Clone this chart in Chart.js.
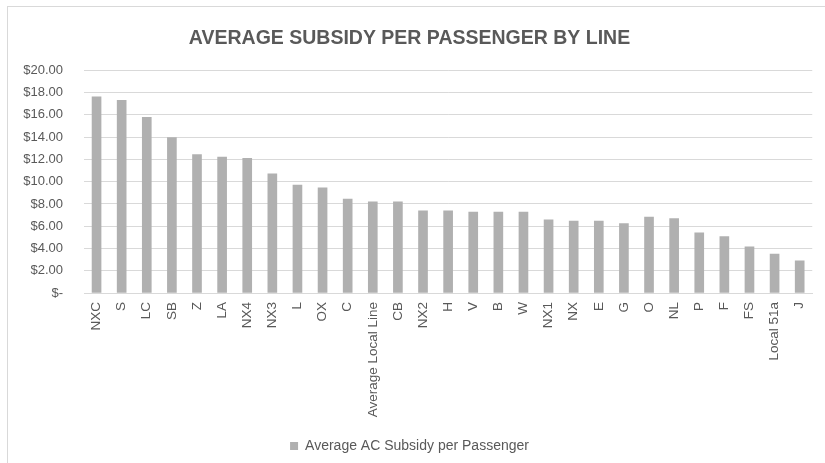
<!DOCTYPE html>
<html>
<head>
<meta charset="utf-8">
<script src="https://cdn.jsdelivr.net/npm/chart.js@4/dist/chart.umd.min.js"></script>
<style>
  html, body { margin: 0; padding: 0; background: #fff; }
  #frame { position: absolute; left: 7px; top: 6px; width: 830px; height: 470px;
           border-left: 1px solid #d9d9d9; border-top: 1px solid #d9d9d9; }
  #wrap { position: absolute; left: 0; top: 0; width: 825px; height: 463px; }
</style>
</head>
<body>
<div id="frame"></div>
<div id="wrap"><canvas id="c"></canvas></div>
<script>
// route names, sorted by subsidy as in the source sheet
const lines = ["NXC", "S", "LC", "SB", "Z", "LA", "NX4", "NX3", "L", "OX", "C",
  "Average Local Line", "CB", "NX2", "H", "V", "B", "W", "NX1", "NX", "E", "G",
  "O", "NL", "P", "F", "FS", "Local 51a", "J"];
const subsidy = [17.63, 17.31, 15.78, 13.96, 12.43, 12.22, 12.11, 10.70, 9.69, 9.44, 8.43,
  8.19, 8.19, 7.38, 7.38, 7.26, 7.26, 7.26, 6.57, 6.46, 6.46, 6.24,
  6.81, 6.69, 5.41, 5.08, 4.15, 3.50, 2.90];
const yTicks = [0, 2, 4, 6, 8, 10, 12, 14, 16, 18, 20];

const grey = "#595959";
const font = "'Liberation Sans', Arial, sans-serif";

new Chart(document.getElementById("c"), {
  type: "bar",
  data: {
    labels: lines,
    datasets: [{
      label: "Average AC Subsidy per Passenger",
      data: subsidy,
      backgroundColor: "#b0b0b0",
      borderWidth: 0,
      barThickness: 9
    }]
  },
  options: {
    responsive: true,
    maintainAspectRatio: false,
    animation: false,
    layout: { padding: { left: 0, right: 6, top: 0, bottom: 0 } },
    plugins: {
      title: {
        display: true,
        text: "AVERAGE SUBSIDY PER PASSENGER BY LINE",
        color: grey,
        font: { family: font, size: 19.5, weight: "bold" },
        padding: { top: 27, bottom: 20 }
      },
      legend: {
        position: "bottom",
        labels: {
          color: grey,
          font: { family: font, size: 14 },
          boxWidth: 8, boxHeight: 8,
          padding: 2
        }
      },
      tooltip: { enabled: false }
    },
    scales: {
      x: {
        grid: { display: false, drawTicks: false },
        border: { color: "#d9d9d9" },
        ticks: {
          color: grey,
          font: { family: font, size: 13.5 },
          minRotation: 90, maxRotation: 90,
          autoSkip: false,
          padding: 9
        },
        afterFit: s => { s.height = 144; }
      },
      y: {
        min: 0, max: 20,
        afterBuildTicks: s => { s.ticks = yTicks.map(v => ({ value: v })); },
        grid: { color: "#d9d9d9", drawTicks: false },
        border: { display: false },
        ticks: {
          color: grey,
          font: { family: font, size: 13 },
          padding: 21,
          callback: v => v === 0 ? "$-" : "$" + v.toFixed(2)
        },
        afterFit: s => { s.width = 84; }
      }
    }
  }
});
</script>
</body>
</html>
